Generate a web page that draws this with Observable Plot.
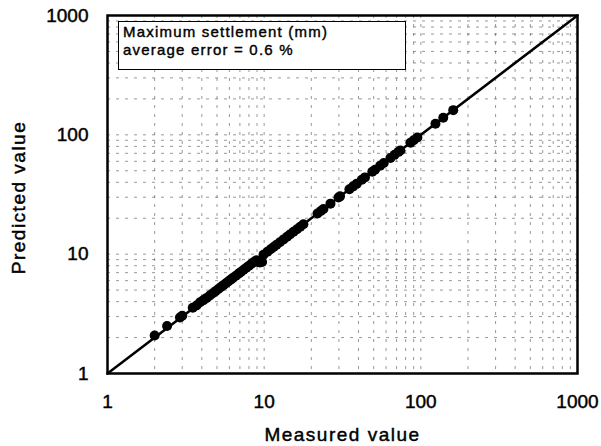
<!DOCTYPE html>
<html>
<head>
<meta charset="utf-8">
<script src="https://cdn.jsdelivr.net/npm/d3@7"></script>
<script src="https://cdn.jsdelivr.net/npm/@observablehq/plot@0.6"></script>
<style>
  html, body { margin: 0; padding: 0; background: #fff; }
  #wrap { position: relative; width: 601px; height: 446px; }
  #legend {
    position: absolute; left: 118px; top: 21px; width: 282px; height: 46px;
    border: 1.5px solid #000; background: #fff;
    font-family: "Liberation Sans", Arial, sans-serif; font-size: 15px;
    letter-spacing: 1.2px; line-height: 18px; padding: 1px 0 0 4px; box-sizing: content-box;
    color: #000; -webkit-text-stroke: 0.4px #000;
  }
  .ttl text { letter-spacing: 1.5px; }
  svg text { stroke: #000; stroke-width: 0.45px; paint-order: stroke; }
</style>
</head>
<body>
<div id="wrap"></div>
<script>
const measured = [2.0, 2.4, 2.9, 3.0, 3.5, 3.7, 3.9, 4.1, 4.3, 4.5, 4.7, 4.9, 5.1, 5.3, 5.5, 5.7, 5.9, 6.1, 6.3, 6.6, 6.9, 7.1, 7.4, 7.7, 8.0, 8.3, 8.6, 8.9, 9.1, 9.4, 9.7, 9.9, 10.5, 11.0, 11.5, 12.0, 12.6, 13.3, 14.0, 14.6, 15.4, 16.2, 17.0, 17.8, 21.9, 23.0, 23.9, 26.5, 29.8, 30.5, 35.0, 37.0, 39.0, 42.0, 44.0, 49.0, 51.0, 55.0, 58.0, 64.0, 68.0, 72.0, 74.0, 86.0, 90.0, 95.0, 124.0, 139.0, 161.0];
const predicted = [2.08, 2.5, 2.95, 3.05, 3.55, 3.72, 3.95, 4.12, 4.3, 4.5, 4.7, 4.9, 5.1, 5.3, 5.5, 5.7, 5.9, 6.1, 6.3, 6.6, 6.9, 7.1, 7.4, 7.7, 8.0, 8.3, 8.6, 8.9, 8.6, 8.5, 8.6, 9.9, 10.5, 11.0, 11.5, 12.0, 12.6, 13.3, 14.0, 14.6, 15.4, 16.2, 17.0, 17.8, 21.9, 23.0, 23.9, 26.5, 29.8, 30.5, 35.0, 37.0, 39.0, 42.0, 44.0, 49.0, 51.0, 55.0, 58.0, 64.0, 68.0, 72.0, 74.0, 86.0, 90.0, 95.0, 124.0, 139.0, 161.0];
const tickValues = [1, 10, 100, 1000];
const gridValues = [2, 3, 4, 5, 6, 7, 8, 9, 10, 20, 30, 40, 50, 60, 70, 80, 90, 100, 200, 300, 400, 500, 600, 700, 800, 900];
const equalityLine = [1, 1000];
const xTitle = "Measured value";
const yTitle = "Predicted value";
const legendLines = ["Maximum settlement (mm)", "average error = 0.6 %"];

const data = measured.map((m, i) => ({measured: m, predicted: predicted[i]}));
const font = "'Liberation Sans', Arial, sans-serif";

const chart = Plot.plot({
  width: 601,
  height: 446,
  marginLeft: 107,
  marginRight: 24,
  marginTop: 15,
  marginBottom: 73,
  style: {fontFamily: font, fontSize: "19px", color: "#000", background: "#fff", overflow: "visible"},
  x: {type: "log", domain: [1, 1000]},
  y: {type: "log", domain: [1, 1000]},
  marks: [
    Plot.gridX(gridValues, {stroke: "#333", strokeOpacity: 0.5, strokeWidth: 1, strokeDasharray: "3,6"}),
    Plot.gridY(gridValues, {stroke: "#333", strokeOpacity: 0.5, strokeWidth: 1, strokeDasharray: "3,6"}),
    Plot.axisX(tickValues, {tickSize: 0, tickPadding: 21, tickFormat: d => String(d), fontSize: 19, label: null}),
    Plot.axisY(tickValues, {tickSize: 0, tickPadding: 19, tickFormat: d => String(d), fontSize: 19, label: null}),
    Plot.line(equalityLine, {x: d => d, y: d => d, stroke: "#000", strokeWidth: 2.5}),
    Plot.dot(data, {x: "measured", y: "predicted", r: 5, fill: "#000", stroke: "none"}),
    Plot.frame({stroke: "#000", strokeWidth: 2.5}),
    Plot.text([xTitle], {frameAnchor: "bottom", dy: 67, lineAnchor: "bottom", fontSize: 19, fill: "#000", className: "ttl"}),
    Plot.text([yTitle], {frameAnchor: "left", dx: -89, dy: 3, rotate: -90, lineAnchor: "middle", textAnchor: "middle", fontSize: 19, fill: "#000", className: "ttl"})
  ]
});

const wrap = document.getElementById("wrap");
wrap.appendChild(chart);
const legend = document.createElement("div");
legend.id = "legend";
legend.innerHTML = legendLines.map(t => `<div>${t}</div>`).join("");
wrap.appendChild(legend);
</script>
</body>
</html>
